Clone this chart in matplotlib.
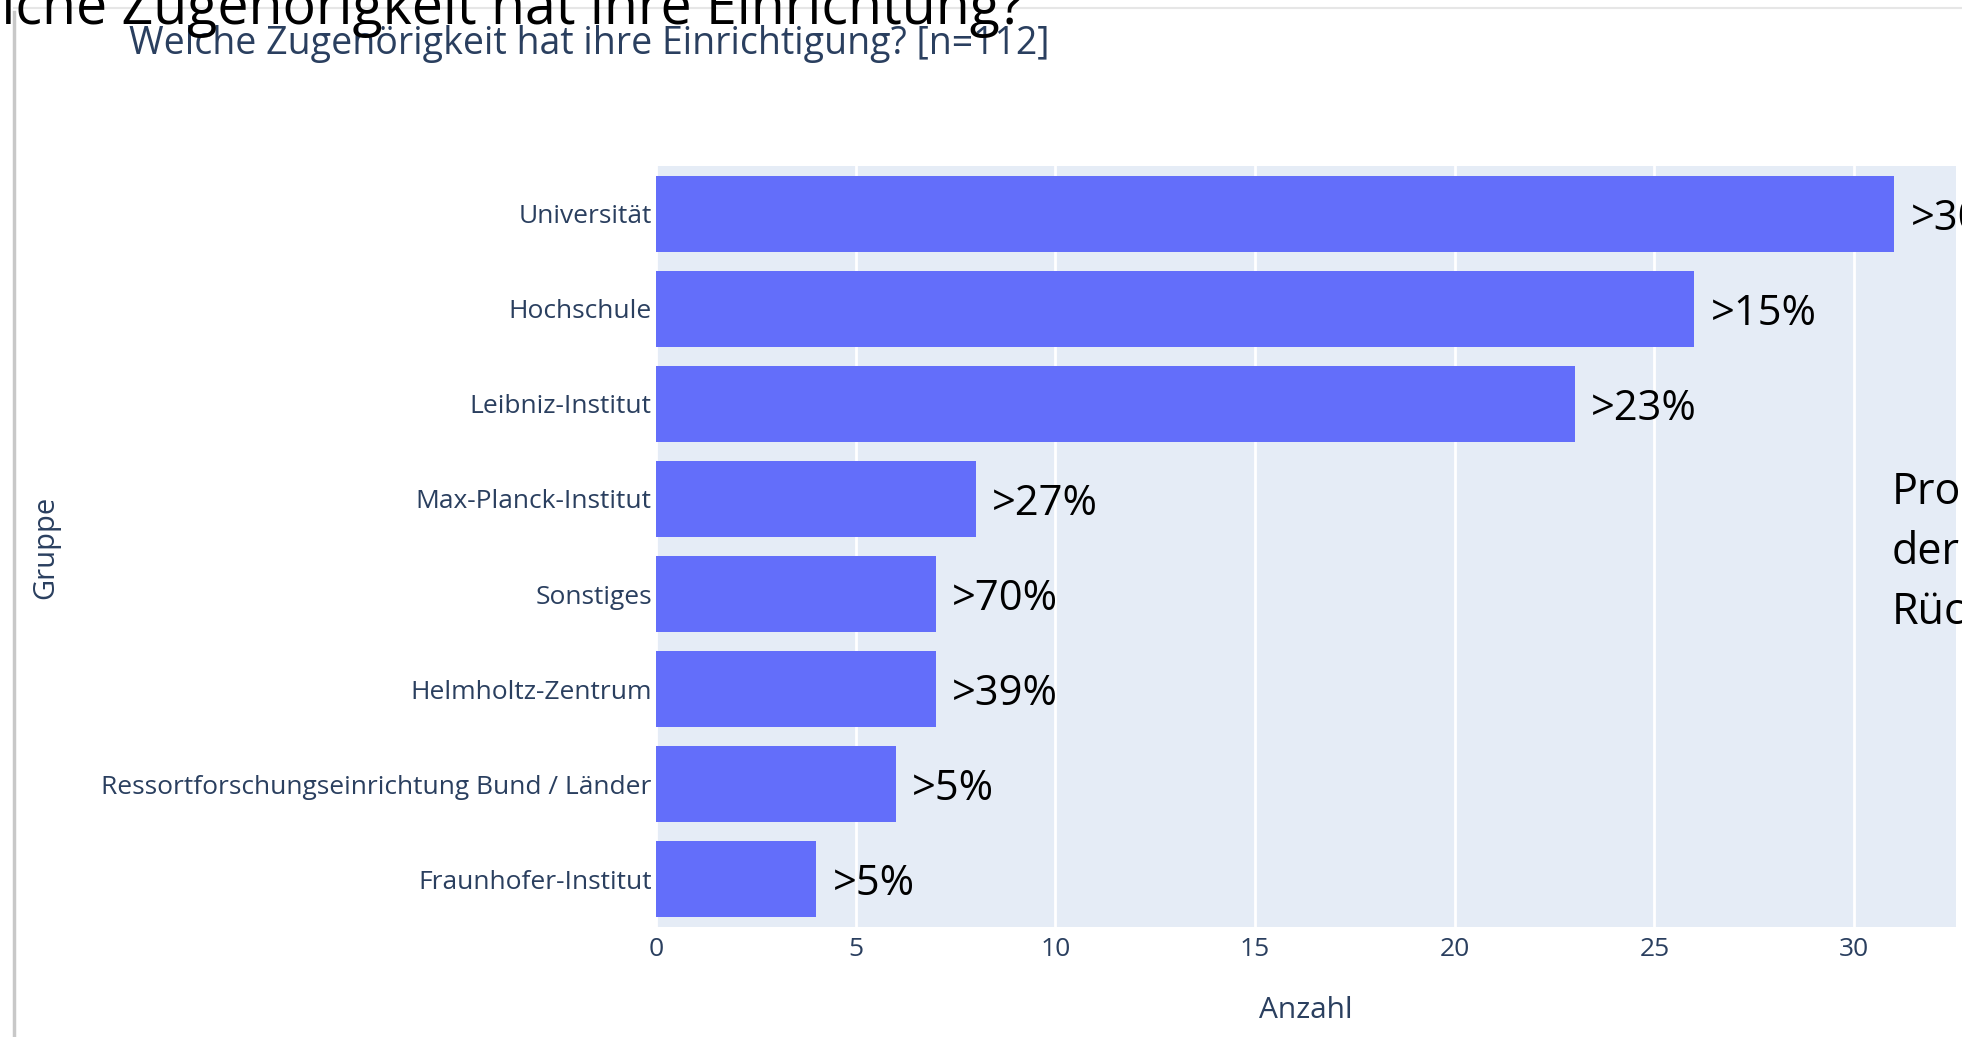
import matplotlib
matplotlib.use("Agg")
import matplotlib.pyplot as plt
from matplotlib.lines import Line2D

# data
groups = ["Universität", "Hochschule", "Leibniz-Institut", "Max-Planck-Institut",
          "Sonstiges", "Helmholtz-Zentrum", "Ressortforschungseinrichtung Bund / Länder",
          "Fraunhofer-Institut"]
counts = [31, 26, 23, 8, 7, 7, 6, 4]
shares = [">30%", ">15%", ">23%", ">27%", ">70%", ">39%", ">5%", ">5%"]
xticks = [0, 5, 10, 15, 20, 25, 30]

plt.rcParams['font.family'] = ['Open Sans', 'DejaVu Sans']
W, H = 1962, 1037
fig = plt.figure(figsize=(W / 100, H / 100), dpi=100)
ax = fig.add_axes([656 / W, 1 - 927 / H, 1300 / W, (927 - 166) / H])
ax.set_facecolor('#e5ecf6')

ypos = list(range(len(groups)))
ax.barh(ypos, counts, height=0.8, color='#636efa', zorder=2)
ax.set_ylim(len(groups) - 0.5, -0.5)
ax.set_xlim(0, 32.55)
ax.set_yticks(ypos, groups)
ax.set_xticks(xticks)
ax.grid(axis='x', color='white', linewidth=2, zorder=1)
ax.set_axisbelow(True)
for s in ax.spines.values():
    s.set_visible(False)
ax.tick_params(axis='both', length=0, labelsize=19, colors='#2a3f5f')
ax.tick_params(axis='y', pad=3)
ax.tick_params(axis='x', pad=7)

for i, (c, s) in enumerate(zip(counts, shares)):
    ax.annotate(s, (c, i), xytext=(12, 0), textcoords='offset points',
                va='center_baseline', ha='left', fontsize=30, color='black',
                annotation_clip=False)

fig.text(46 / W, 1 - 547 / H, "Gruppe", rotation=90, ha='center', va='center',
         fontsize=21, color='#2a3f5f')
fig.text(1306 / W, 1 - 1011 / H, "Anzahl", ha='center', va='center',
         fontsize=21.5, color='#2a3f5f')
fig.text(129 / W, 1 - 44 / H, "Welche Zugehörigkeit hat ihre Einrichtigung? [n=112]",
         ha='left', va='center', fontsize=27, color='#2a3f5f')

# pasted overlay texts (cut by the screenshot edges)
fig.text(1024 / W, 1 - 24 / H, "Welche Zugehörigkeit hat ihre Einrichtung?",
         ha='right', va='baseline', fontsize=40, color='black')
fig.text(1892 / W, 1 - 553 / H, "Prozent\nder\nRückmeldungen", ha='left',
         va='center', fontsize=31, linespacing=1.45, color='black')

# screenshot frame lines
fig.add_artist(Line2D([14 / W, 14 / W], [0, 1 - 12 / H], transform=fig.transFigure,
                      color='#c8c8c8', lw=2.5, zorder=0.5))
fig.add_artist(Line2D([14 / W, 1], [1 - 8 / H, 1 - 8 / H], transform=fig.transFigure,
                      color='#e6e6e6', lw=1.5, zorder=0.5))

fig.savefig('out.png', dpi=100)
